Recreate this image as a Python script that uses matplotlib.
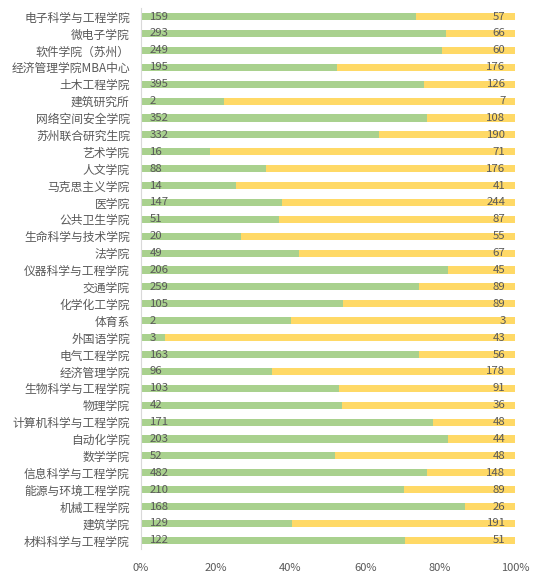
import matplotlib
matplotlib.use("Agg")
import matplotlib.pyplot as plt
import numpy as np

categories = ["电子科学与工程学院", "微电子学院", "软件学院（苏州）", "经济管理学院MBA中心", "土木工程学院",
              "建筑研究所", "网络空间安全学院", "苏州联合研究生院", "艺术学院", "人文学院",
              "马克思主义学院", "医学院", "公共卫生学院", "生命科学与技术学院", "法学院",
              "仪器科学与工程学院", "交通学院", "化学化工学院", "体育系", "外国语学院",
              "电气工程学院", "经济管理学院", "生物科学与工程学院", "物理学院", "计算机科学与工程学院",
              "自动化学院", "数学学院", "信息科学与工程学院", "能源与环境工程学院", "机械工程学院",
              "建筑学院", "材料科学与工程学院"]
green_vals = [159, 293, 249, 195, 395, 2, 352, 332, 16, 88, 14, 147, 51, 20, 49, 206, 259, 105, 2, 3,
              163, 96, 103, 42, 171, 203, 52, 482, 210, 168, 129, 122]
yellow_vals = [57, 66, 60, 176, 126, 7, 108, 190, 71, 176, 41, 244, 87, 55, 67, 45, 89, 89, 3, 43,
               56, 178, 91, 36, 48, 44, 48, 148, 89, 26, 191, 51]
xticks = [0, 0.2, 0.4, 0.6, 0.8, 1.0]
xtick_labels = ["0%", "20%", "40%", "60%", "80%", "100%"]

plt.rcParams['font.family'] = ['Noto Sans CJK SC', 'DejaVu Sans']

g = np.array(green_vals, float)
yv = np.array(yellow_vals, float)
tot = g + yv
gp = g / tot
yp = yv / tot
n = len(categories)
ypos = np.arange(n)[::-1]

fig = plt.figure(figsize=(5.42, 5.82), dpi=100)
ax = fig.add_axes([0.260, 0.057, 0.690, 0.929])
ax.barh(ypos, gp, height=0.42, color="#A9D18E", linewidth=0)
ax.barh(ypos, yp, left=gp, height=0.42, color="#FFD966", linewidth=0)

txtc = "#595959"
for i in range(n):
    ax.text(0.024, ypos[i], str(green_vals[i]), va="center", ha="left", fontsize=8.2, color=txtc)
    ax.text(0.975, ypos[i], str(yellow_vals[i]), va="center", ha="right", fontsize=8.2, color=txtc)

ax.set_ylim(-0.5, n - 0.5)
ax.set_xlim(0, 1)
ax.set_yticks(ypos)
ax.set_yticklabels(categories, fontsize=8.5, color=txtc)
ax.set_xticks(xticks)
ax.set_xticklabels(xtick_labels, fontsize=8, color=txtc)
ax.tick_params(axis="both", length=0)
ax.tick_params(axis="x", pad=10)
ax.tick_params(axis="y", pad=8)
for s in ["top", "right", "bottom"]:
    ax.spines[s].set_visible(False)
ax.spines["left"].set_color("#D9D9D9")

fig.savefig("out.png", dpi=100)
